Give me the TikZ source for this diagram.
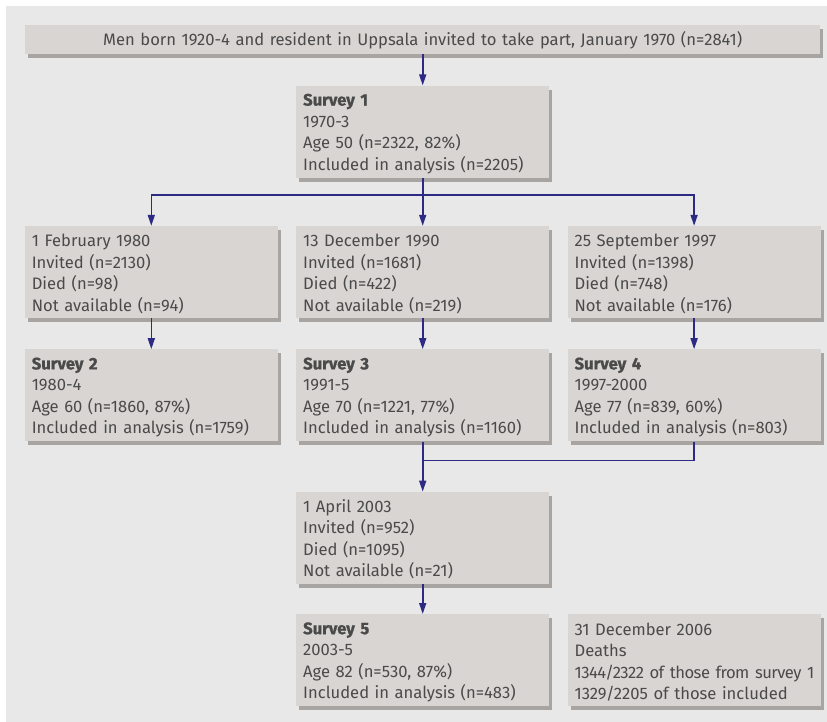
\documentclass[tikz,border=0pt]{standalone}
\usepackage{fontspec}
\setmainfont{Fira Sans}[BoldFeatures={FakeBold=1.2}]
\usetikzlibrary{positioning,shadows,arrows.meta}
\definecolor{backgray}{HTML}{E8E8E8}
\definecolor{boxgray}{HTML}{D9D5D2}
\definecolor{shadegray}{HTML}{A8A4A1}
\definecolor{textgray}{HTML}{4A4A4A}
\definecolor{flownavy}{HTML}{2D2A84}
\tikzset{
	panel/.style={ % requires library shadows
		fill=boxgray,
		drop shadow={shadow xshift=3pt,shadow yshift=-4pt,fill=shadegray,opacity=1},
		text=textgray,
		font=\fontsize{16.6pt}{21.5pt}\selectfont,
		execute at begin node=\rule{0pt}{16pt},
		text width=239pt,
		inner xsep=7pt,
		inner ysep=3pt,
		minimum height=92pt,
		align=left,
	},
	wide panel/.style={
		panel,
		execute at begin node={},
		text width=781pt,
		minimum height=29pt,
		align=center,
	},
	flow/.style={ % requires library arrows.meta
		draw=flownavy,
		line width=1.6pt,
		-{Triangle[width=7pt,length=11pt]}
	},
	merge line/.style={
		draw=flownavy,
		line width=1.6pt,
	},
}
\newcommand{\surveyhead}[1]{\textbf{Survey #1}}
\newcommand{\tightline}[1]{\mbox{\addfontfeature{LetterSpace=-3}#1}}
\begin{document}
\begin{tikzpicture}
		\useasboundingbox (0,0) rectangle (827pt,-722pt);
		\fill[white] (0,0) rectangle (827pt,-722pt);
		\fill[backgray] (6pt,-6pt) rectangle (827pt,-722pt);
		\node[wide panel,anchor=north west] (invite) at (25pt,-25pt) {Men born 1920-4 and resident in Uppsala invited to take part, January 1970 (n=2841)};
		\node[below= 31pt of invite,panel] (s1) {\surveyhead{1}\\1970-3\\Age 50 (n=2322, 82\%)\\Included in analysis (n=2205)};
		\node[below= 48pt of s1,panel] (f1990) {13 December 1990\\Invited (n=1681)\\Died (n=422)\\Not available (n=219)};
		\node[left= 18pt of f1990,panel] (f1980) {1 February 1980\\Invited (n=2130)\\Died (n=98)\\Not available (n=94)};
		\node[right= 18pt of f1990,panel] (f1997) {25 September 1997\\Invited (n=1398)\\Died (n=748)\\Not available (n=176)};
		\node[below= 31pt of f1980,panel] (s2) {\surveyhead{2}\\1980-4\\Age 60 (n=1860, 87\%)\\Included in analysis (n=1759)};
		\node[below= 31pt of f1990,panel] (s3) {\surveyhead{3}\\1991-5\\Age 70 (n=1221, 77\%)\\Included in analysis (n=1160)};
		\node[below= 31pt of f1997,panel] (s4) {\surveyhead{4}\\1997-2000\\Age 77 (n=839, 60\%)\\Included in analysis (n=803)};
		\node[below= 50pt of s3,panel] (f2003) {1 April 2003\\Invited (n=952)\\Died (n=1095)\\Not available (n=21)};
		\node[below= 30pt of f2003,panel] (s5) {\surveyhead{5}\\2003-5\\Age 82 (n=530, 87\%)\\Included in analysis (n=483)};
		\node[right= 18pt of s5,panel] (deaths) {31 December 2006\\Deaths\\\tightline{1344/2322 of those from survey 1}\\1329/2205 of those included};
		% connectors
		\coordinate[below= 17pt of s1.south] (split);
		\coordinate[below= 19pt of s3.south] (merge);
		\draw[flow] (invite) -- (s1);
		\draw[flow] (s1) -- (split) -| (f1980);
		\draw[flow] (split) -- (f1990);
		\draw[flow] (split) -| (f1997);
		\draw[flow] (f1980) -- (s2);
		\draw[flow] (f1990) -- (s3);
		\draw[flow] (f1997) -- (s4);
		\draw[merge line] (s4) |- (merge);
		\draw[flow] (s3) -- (f2003);
		\draw[flow] (f2003) -- (s5);
	\end{tikzpicture}
\end{document}
